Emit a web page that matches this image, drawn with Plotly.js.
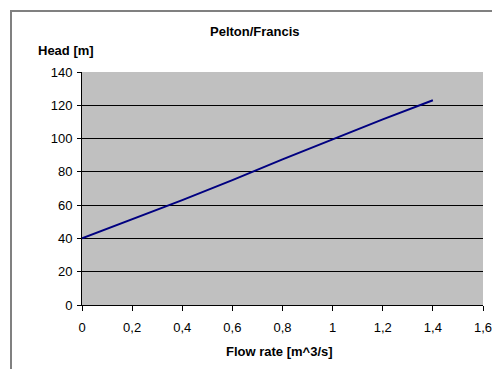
<!DOCTYPE html>
<html>
<head>
<meta charset="utf-8">
<script src="https://cdn.plot.ly/plotly-3.0.1.min.js"></script>
<style>
html,body{margin:0;padding:0;background:#fff;}
#wrap{position:relative;width:492px;height:369px;overflow:hidden;}
#frame{position:absolute;left:10px;top:10px;width:500px;height:400px;border-left:2px solid #808080;border-top:2px solid #808080;}
#chart{position:absolute;left:0;top:0;width:492px;height:369px;}
</style>
</head>
<body>
<div id="wrap"><div id="frame"></div><div id="chart"></div></div>
<script>
const flowRate = [0, 0.2, 0.4, 0.6, 0.8, 1.0, 1.2, 1.4];
const head = [40, 51.5, 63, 75, 87.5, 99.5, 111.5, 123];
const xTicks = [0, 0.2, 0.4, 0.6, 0.8, 1.0, 1.2, 1.4, 1.6];
const yTicks = [0, 20, 40, 60, 80, 100, 120, 140];

const fam = 'Liberation Sans, Arial, sans-serif';
const font = {family: fam, size: 13, color: '#000'};
const L = 82, T = 72, W = 401, H = 233;

Plotly.newPlot('chart', [{
  x: flowRate, y: head, type: 'scatter', mode: 'lines',
  line: {color: '#000080', width: 2}, hoverinfo: 'skip'
}], {
  width: 492, height: 369,
  margin: {l: L, r: 492 - L - W, t: T, b: 369 - T - H},
  paper_bgcolor: 'rgba(0,0,0,0)',
  plot_bgcolor: '#C0C0C0',
  separators: ', ',
  font: font,
  showlegend: false,
  xaxis: {
    range: [0, 1.6], tickvals: xTicks, showgrid: false, zeroline: false,
    showline: true, linecolor: '#000', linewidth: 1,
    ticks: 'outside', ticklen: 5, tickcolor: '#000', tickfont: font,
    ticklabelstandoff: 5, ticklabeloverflow: 'allow',
    fixedrange: true
  },
  yaxis: {
    range: [0, 140], tickvals: yTicks, showgrid: true, gridcolor: '#000', gridwidth: 1,
    zeroline: false, showline: true, linecolor: '#000', linewidth: 1,
    ticks: 'outside', ticklen: 4, tickcolor: '#000', tickfont: font,
    ticklabelstandoff: 2, ticklabeloverflow: 'allow',
    fixedrange: true
  },
  annotations: [
    {text: '<b>Pelton/Francis</b>', xref: 'paper', yref: 'paper',
     x: (254.5 - L) / W, y: 1 + (T - 31.5) / H, xanchor: 'center', yanchor: 'middle',
     showarrow: false, font: {family: fam, size: 13}},
    {text: '<b>Head [m]</b>', xref: 'paper', yref: 'paper',
     x: (36 - L) / W, y: 1 + (T - 50) / H, xanchor: 'left', yanchor: 'middle',
     showarrow: false, font: {family: fam, size: 13}},
    {text: '<b>Flow rate [m^3/s]</b>', xref: 'paper', yref: 'paper',
     x: (279 - L) / W, y: -(351 - T - H) / H, xanchor: 'center', yanchor: 'middle',
     showarrow: false, font: {family: fam, size: 13}}
  ]
}, {staticPlot: true});
</script>
</body>
</html>
